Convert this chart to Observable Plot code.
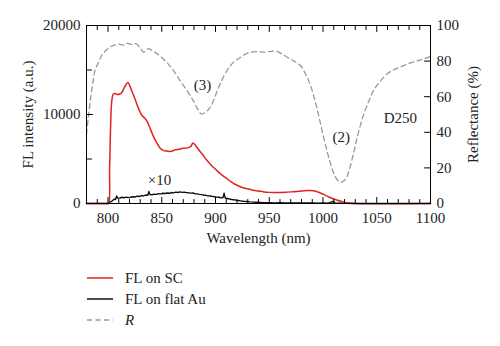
<!DOCTYPE html>
<html>
<head>
<meta charset="utf-8">
<script src="https://cdn.jsdelivr.net/npm/d3@7"></script>
<script src="https://cdn.jsdelivr.net/npm/@observablehq/plot@0.6"></script>
<style>
  html, body { margin: 0; padding: 0; background: #fff; }
  #wrap { position: relative; width: 500px; height: 346px; font-family: "Liberation Serif", "DejaVu Serif", serif; color: #222; }
  #legend { position: absolute; left: 0; top: 0; width: 500px; height: 346px; pointer-events: none; }
  .row { position: absolute; left: 87px; height: 20px; font-size: 15px; line-height: 20px; }
  .row svg { position: absolute; left: 0; top: 10px; overflow: visible; }
  .row span { position: absolute; left: 38px; top: 0; white-space: nowrap; }
</style>
</head>
<body>
<div id="wrap"></div>
<script>
// ---- data ----
const redWl  = [780,799,800.5,801.5,802.5,803.5,805,807,809,811,813,815,817,818.5,820,822,825,828,831,834,836,839,842,845,848,851,854,858,862,866,870,874,877,879,881,884,888,892,896,900,905,910,915,920,925,930,935,940,945,950,957,965,972,980,988,994,1000,1006,1012,1018,1024,1030,1100];
const redFL  = [0,0,0,4000,9000,11500,12300,12350,12250,12300,12500,13000,13400,13600,13300,12700,11800,10800,10000,9600,9300,8500,7600,6900,6300,6000,5900,5850,6000,6100,6200,6250,6400,6800,6600,6100,5500,4850,4300,3850,3300,2850,2400,2050,1800,1650,1500,1400,1300,1250,1230,1260,1320,1400,1460,1350,1050,700,420,200,60,0,0];

const blackWl = [780,800,802,804,806,807,808,809,811,813,815,817,819,821,823,825,827,829,831,833,835,837,838,839,841,843,845,847,849,851,853,855,857,859,861,863,865,867,869,871,873,875,877,879,881,883,885,887,889,891,893,895,897,899,901,903,905,907,908,909,911,913,915,917,919,921,923,926,929,932,935,938,941,945,950,955,960,965,970,975,980,985,990,995,1000,1005,1010,1011,1015,1020,1030,1100];
const blackFL = [0,0,150,300,500,450,850,600,620,700,640,720,660,700,760,730,820,780,880,850,950,920,1350,1000,980,1050,1020,1100,1080,1150,1120,1180,1150,1230,1200,1280,1240,1300,1250,1280,1220,1200,1160,1180,1100,1080,1020,1000,950,920,860,840,800,760,720,700,650,660,1150,620,560,500,450,420,380,330,300,250,220,180,150,140,120,100,90,70,80,60,70,50,60,50,60,40,50,40,250,40,30,20,0,0];

const reflWl = [780,782,784,786,788,791,794,798,802,806,810,814,818,822,826,830,833,836,838,842,846,850,855,861,867,874,880,884,887,890,893,896,899,902,905,909,914,918,923,928,933,940,945,952,957,962,967,973,979,984,988,992,995,998,1001,1004,1007,1010,1013,1016,1019,1022,1025,1029,1033,1038,1043,1047,1053,1060,1067,1075,1083,1091,1100];
const reflR  = [39,50,60,68,75,79,83,86,88,89,89.5,89,90,89.3,89.8,87.5,85,86.5,87,85.5,84,82,79,74.7,69,63,57,52.5,50.3,51,52.5,55,59,64,68,73,77.5,80,82,84,85,85.3,85,85.5,85.5,84,82,80,77.5,72.5,67,59,52,44,36,29,22.3,17,13.5,12,12.5,14.8,20,29.8,40,50.4,58,63.5,68.5,73,75.5,77.5,79.3,80.7,82.6];

const xMajor = [800,850,900,950,1000,1050,1100];
const xMinor = [790,810,820,830,840,860,870,880,890,910,920,930,940,960,970,980,990,1010,1020,1030,1040,1060,1070,1080,1090];
const yLeftMajor = [0,10000,20000];
const yLeftMinor = [5000,15000];
const reflTicks = [0,20,40,60,80,100];

const notes = [
  {t: "(3)", wl: 888, v: 13250},
  {t: "(2)", wl: 1017, v: 7400},
  {t: "D250", wl: 1072, v: 9550},
  {t: "×10", wl: 848, v: 2600}
];

const legendItems = [
  {label: "FL on SC", color: "#e0241e", dash: null, italic: false},
  {label: "FL on flat Au", color: "#111", dash: null, italic: false},
  {label: "R", color: "#999", dash: "5,3.5", italic: true}
];

// ---- build tables ----
const RSCALE = 20000 / 100;
const red = redWl.map((w, i) => ({w, v: redFL[i]}));
const black = blackWl.map((w, i) => ({w, v: blackFL[i]}));
const refl = reflWl.map((w, i) => ({w, v: reflR[i] * RSCALE}));

const tickShape = {draw(context, l) { context.moveTo(0, 0); context.lineTo(0, -l); }};
const tick = (data, opts) => Plot.vector(data, {shape: tickShape, anchor: "start", stroke: "black", strokeWidth: 1, ...opts});

const plot = Plot.plot({
  width: 500,
  height: 250,
  marginLeft: 86,
  marginRight: 70,
  marginTop: 25,
  marginBottom: 47,
  style: {fontFamily: "Liberation Serif, DejaVu Serif, serif", fontSize: "15px", background: "white", color: "#222"},
  x: {domain: [780, 1100], label: null},
  y: {domain: [0, 20000], label: null},
  marks: [
    Plot.line(refl, {x: "w", y: "v", stroke: "#999", strokeWidth: 1.3, strokeDasharray: "5,3.5", curve: "catmull-rom"}),
    Plot.line(black, {x: "w", y: "v", stroke: "#111", strokeWidth: 1.4}),
    Plot.line(red, {x: "w", y: "v", stroke: "#e0241e", strokeWidth: 1.5, curve: "catmull-rom"}),
    Plot.text(notes, {x: "wl", y: "v", text: "t", fontSize: 15, fill: "#222"}),
    Plot.frame({stroke: "black", strokeWidth: 1}),
    // ticks (inward)
    tick(xMajor, {x: d => d, frameAnchor: "bottom", length: 6, rotate: 0}),
    tick(xMinor, {x: d => d, frameAnchor: "bottom", length: 4, rotate: 0}),
    tick(xMajor, {x: d => d, frameAnchor: "top", length: 6, rotate: 180}),
    tick(xMinor, {x: d => d, frameAnchor: "top", length: 4, rotate: 180}),
    tick(yLeftMajor, {y: d => d, frameAnchor: "left", length: 6, rotate: 90}),
    tick(yLeftMinor, {y: d => d, frameAnchor: "left", length: 5, rotate: 90}),
    tick(reflTicks.map(d => d * RSCALE), {y: d => d, frameAnchor: "right", length: 6, rotate: -90}),
    // tick labels
    Plot.axisX(xMajor, {anchor: "bottom", tickSize: 0, tickPadding: 9, label: null, tickFormat: d3.format("d"), fontSize: 15, fill: "#222"}),
    Plot.axisY(yLeftMajor, {anchor: "left", tickSize: 0, tickPadding: 6, label: null, tickFormat: d3.format("d"), fontSize: 15, fill: "#222"}),
    Plot.axisY(reflTicks.map(d => d * RSCALE), {anchor: "right", tickSize: 0, tickPadding: 6, label: null, tickFormat: d => String(d / RSCALE), fontSize: 15, fill: "#222"}),
    // axis titles
    Plot.text(["Wavelength (nm)"], {frameAnchor: "bottom", dy: 39, fontSize: 15, fill: "#222"}),
    Plot.text(["FL intensity (a.u.)"], {frameAnchor: "left", dx: -58, rotate: -90, textAnchor: "middle", fontSize: 15, fill: "#222"}),
    Plot.text(["Reflectance (%)"], {frameAnchor: "right", dx: 43, rotate: -90, textAnchor: "middle", fontSize: 15, fill: "#222"})
  ]
});

const wrap = document.getElementById("wrap");
wrap.appendChild(plot);

const legend = document.createElement("div");
legend.id = "legend";
const rowTops = [268, 289, 310];
legendItems.forEach((it, i) => {
  const row = document.createElement("div");
  row.className = "row";
  row.style.top = rowTops[i] + "px";
  row.innerHTML = `<svg width="26" height="2"><line x1="0" y1="0" x2="26" y2="0" stroke="${it.color}" stroke-width="1.5" ${it.dash ? `stroke-dasharray="${it.dash}"` : ""}/></svg><span style="${it.italic ? "font-style:italic" : ""}">${it.label}</span>`;
  legend.appendChild(row);
});
wrap.appendChild(legend);
</script>
</body>
</html>
